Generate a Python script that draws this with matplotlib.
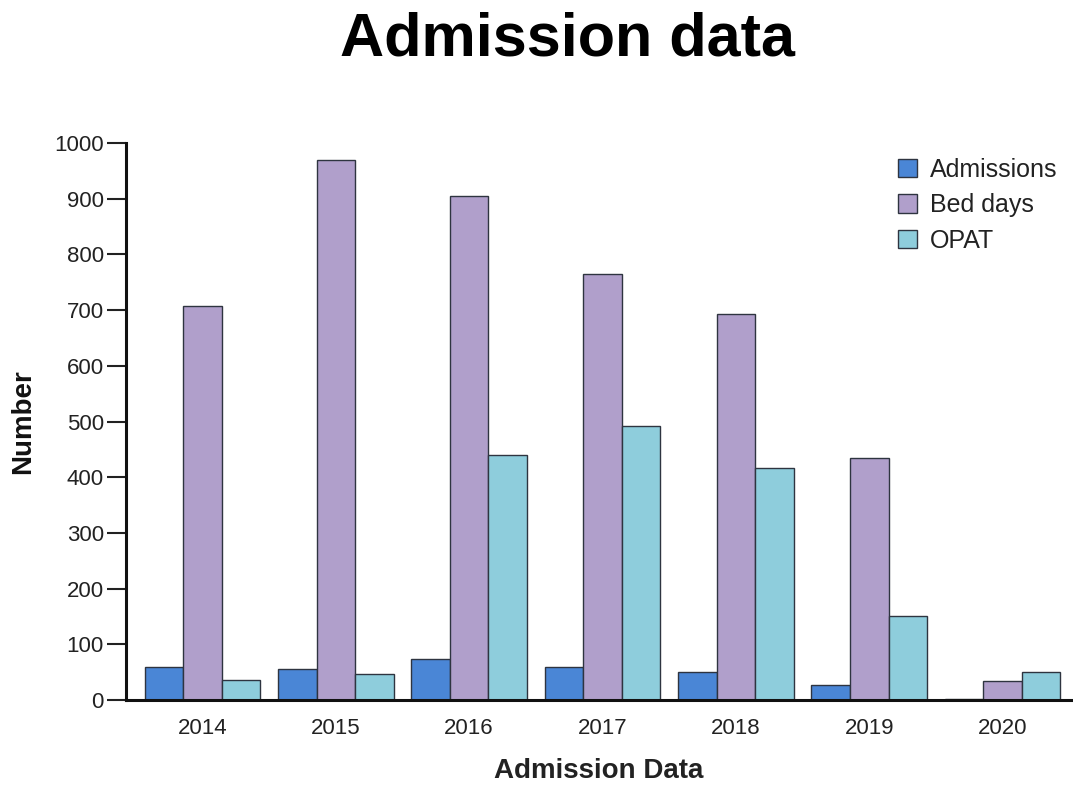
import matplotlib
matplotlib.use("Agg")
import matplotlib.pyplot as plt
import numpy as np
from matplotlib.patches import Patch

plt.rcParams['font.family'] = ['Liberation Sans', 'DejaVu Sans']

years = ["2014", "2015", "2016", "2017", "2018", "2019", "2020"]
admissions = [59, 56, 74, 59, 51, 27, 2]
bed_days = [708, 969, 905, 764, 693, 435, 35]
opat = [36, 47, 440, 492, 416, 151, 50]

series_names = ["Admissions", "Bed days", "OPAT"]
colors = ["#4a86d6", "#b09fcb", "#8ecddc"]

fig = plt.figure(figsize=(10.73, 7.87), dpi=100)
ax = fig.add_axes([126/1073, 1-700/787, (1072-126)/1073, (700-143)/787])

x = np.arange(len(years))
w = 0.289
for i, (vals, name, c) in enumerate(zip([admissions, bed_days, opat], series_names, colors)):
    ax.bar(x + (i - 1) * w, vals, width=w, color=c, edgecolor="#2e3440", linewidth=1.0, label=name)

ax.set_xlim(-0.573, 6.52)
ax.set_ylim(0, 1000)
ax.set_yticks(range(0, 1001, 100))
ax.set_xticks(x)
ax.set_xticklabels(years)
ax.tick_params(axis='x', length=0, pad=13, labelsize=16, colors="#222222")
ax.tick_params(axis='y', length=14, width=1.5, pad=2, labelsize=16, colors="#222222")
for lab in ax.get_xticklabels() + ax.get_yticklabels():
    lab.set_color("#222222")
for t in ax.yaxis.get_ticklines():
    t.set_color("#333333")

for s in ["top", "right"]:
    ax.spines[s].set_visible(False)
ax.spines["left"].set_linewidth(2.2)
ax.spines["bottom"].set_linewidth(2.2)
ax.spines["left"].set_color("#111111")
ax.spines["bottom"].set_color("#111111")

ax.set_xlabel("Admission Data", fontsize=20, fontweight="bold", labelpad=14, color="#222222")
ax.set_ylabel("Number", fontsize=20, fontweight="bold", color="#111111")
ax.yaxis.set_label_coords(-(126-36)/946, 0.5)

fig.text(567/1073, 1-40/787, "Admission data", fontsize=44, fontweight="bold",
         ha="center", va="center", color="#000000")

handles = [Patch(facecolor=c, edgecolor="#2e3440", linewidth=1.0) for c in colors]
leg = ax.legend(handles, series_names, loc="upper right", bbox_to_anchor=(1.0, 1.0),
                frameon=False, fontsize=18, handlelength=0.75, handleheight=0.75,
                handletextpad=0.5, labelspacing=0.45, borderaxespad=0.2)
for t in leg.get_texts():
    t.set_color("#222222")

fig.savefig("out.png", dpi=100)
